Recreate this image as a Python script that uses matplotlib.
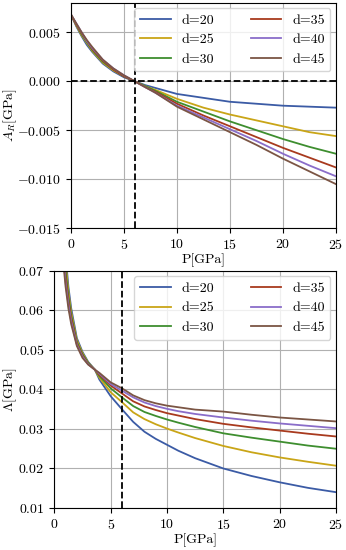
import matplotlib
matplotlib.use("Agg")
import matplotlib.pyplot as plt
import numpy as np

plt.rcParams['font.family'] = 'serif'
plt.rcParams['font.serif'] = ['cmr10']
plt.rcParams['mathtext.fontset'] = 'cm'
plt.rcParams['axes.formatter.use_mathtext'] = True
plt.rcParams['font.size'] = 10

# Etiquetas y colores de las series
etiquetas = ['d=20', 'd=25', 'd=30', 'd=35', 'd=40', 'd=45']
colores = ['#3b5ba5', '#c9a517', '#3e8e2f', '#a83a1e', '#8a6dc9', '#7b5544']

# Panel superior: A_R frente a P
P_a = [0, 0.5, 1, 1.5, 2, 3, 4, 5, 6, 7, 8, 10, 12.5, 15, 17.5, 20, 22.5, 25]
A_d20 = [0.0068, 0.0056, 0.0046, 0.0037, 0.0030, 0.0018, 0.0010, 0.0004, 0, -0.0004, -0.0007,
         -0.0013, -0.0017, -0.0021, -0.0023, -0.0025, -0.0026, -0.0027]
A_d25 = [0.0068, 0.0057, 0.0047, 0.0039, 0.0031, 0.0019, 0.0011, 0.0005, 0, -0.0005, -0.0009,
         -0.0018, -0.0027, -0.0034, -0.0040, -0.0046, -0.0052, -0.0056]
A_d30 = [0.0068, 0.0058, 0.0048, 0.0040, 0.0032, 0.0020, 0.0012, 0.0005, 0, -0.0005, -0.0010,
         -0.0021, -0.0031, -0.0041, -0.0050, -0.0059, -0.0067, -0.0074]
A_d35 = [0.0068, 0.0058, 0.0049, 0.0041, 0.0033, 0.0021, 0.0012, 0.0005, 0, -0.0006, -0.0011,
         -0.0023, -0.0035, -0.0046, -0.0057, -0.0068, -0.0078, -0.0088]
A_d40 = [0.0068, 0.0059, 0.0050, 0.0041, 0.0034, 0.0022, 0.0013, 0.0006, 0, -0.0006, -0.0012,
         -0.0025, -0.0037, -0.0049, -0.0061, -0.0074, -0.0086, -0.0097]
A_d45 = [0.0068, 0.0059, 0.0050, 0.0042, 0.0035, 0.0022, 0.0013, 0.0006, 0, -0.0006, -0.0012,
         -0.0026, -0.0039, -0.0052, -0.0065, -0.0079, -0.0092, -0.0105]

# Panel inferior: Lambda frente a P
P_l = [0.6, 0.8, 1.0, 1.25, 1.5, 2, 2.5, 3, 3.6, 4, 5, 6, 7, 8, 9, 10, 11, 12.5, 15, 17.5, 20, 22.5, 25]
L_d20 = [0.095, 0.083, 0.074, 0.066, 0.0605, 0.053, 0.0495, 0.047, 0.045, 0.0425, 0.0383, 0.0350,
         0.0318, 0.0293, 0.0275, 0.0260, 0.0245, 0.0226, 0.0200, 0.0181, 0.0165, 0.0151, 0.0140]
L_d25 = [0.092, 0.080, 0.072, 0.0648, 0.0595, 0.0525, 0.0492, 0.0468, 0.045, 0.0430, 0.0393, 0.0368,
         0.0342, 0.0325, 0.0312, 0.0301, 0.0291, 0.0277, 0.0257, 0.0241, 0.0228, 0.0217, 0.0207]
L_d30 = [0.089, 0.078, 0.070, 0.0636, 0.0587, 0.052, 0.0489, 0.0467, 0.045, 0.0434, 0.0403, 0.0380,
         0.0358, 0.0343, 0.0333, 0.0324, 0.0316, 0.0305, 0.0289, 0.0278, 0.0268, 0.0258, 0.0250]
L_d35 = [0.086, 0.076, 0.0685, 0.0625, 0.058, 0.0516, 0.0486, 0.0465, 0.045, 0.0437, 0.0410, 0.0390,
         0.0370, 0.0357, 0.0348, 0.0340, 0.0334, 0.0325, 0.0313, 0.0304, 0.0296, 0.0288, 0.0281]
L_d40 = [0.083, 0.074, 0.067, 0.0615, 0.0572, 0.0513, 0.0483, 0.0464, 0.045, 0.0440, 0.0414, 0.0397,
         0.0380, 0.0367, 0.0358, 0.0351, 0.0345, 0.0338, 0.0329, 0.0321, 0.0314, 0.0308, 0.0302]
L_d45 = [0.080, 0.072, 0.066, 0.0605, 0.0565, 0.051, 0.048, 0.0463, 0.045, 0.0442, 0.0418, 0.0403,
         0.0385, 0.0373, 0.0365, 0.0359, 0.0355, 0.0349, 0.0344, 0.0336, 0.0329, 0.0324, 0.0319]

series_a = [A_d20, A_d25, A_d30, A_d35, A_d40, A_d45]
series_l = [L_d20, L_d25, L_d30, L_d35, L_d40, L_d45]

fig = plt.figure(figsize=(3.46, 5.5), dpi=100)
ax1 = fig.add_axes([0.205, 0.585, 0.766, 0.41])
ax2 = fig.add_axes([0.157, 0.0764, 0.814, 0.431])

for ax in (ax1, ax2):
    ax.grid(True, color='#b0b0b0', linewidth=0.8)
    ax.set_axisbelow(True)

# Panel superior
for vals, lab, col in zip(series_a, etiquetas, colores):
    ax1.plot(P_a, vals, color=col, linewidth=1.3, label=lab)
ax1.axvline(6, color='black', linestyle='--', linewidth=1.3)
ax1.axhline(0, color='black', linestyle='--', linewidth=1.3)
ax1.set_xlim(0, 25)
ax1.set_ylim(-0.015, 0.008)
ax1.set_yticks([-0.015, -0.010, -0.005, 0.0, 0.005])
ax1.set_yticklabels(['$-0.015$', '$-0.010$', '$-0.005$', '$0.000$', '$0.005$'])
ax1.set_xticks([0, 5, 10, 15, 20, 25])
ax1.set_xlabel('P[GPa]', labelpad=1)
ax1.set_ylabel('$A_R$[GPa]', va='center')
ax1.yaxis.set_label_coords(-0.228, 0.5)
ax1.legend(ncol=2, loc='upper right', columnspacing=2.6, handlelength=2.2,
           fontsize=10, borderaxespad=0.4)

# Panel inferior
for vals, lab, col in zip(series_l, etiquetas, colores):
    ax2.plot(P_l, vals, color=col, linewidth=1.3, label=lab)
ax2.axvline(6, color='black', linestyle='--', linewidth=1.3)
ax2.set_xlim(0, 25)
ax2.set_ylim(0.01, 0.07)
ax2.set_yticks([0.01, 0.02, 0.03, 0.04, 0.05, 0.06, 0.07])
ax2.set_yticklabels(['$0.01$', '$0.02$', '$0.03$', '$0.04$', '$0.05$', '$0.06$', '$0.07$'])
ax2.set_xticks([0, 5, 10, 15, 20, 25])
ax2.set_xlabel('P[GPa]', labelpad=1)
ax2.set_ylabel(r'$\Lambda$[GPa]', va='center')
ax2.yaxis.set_label_coords(-0.155, 0.5)
ax2.legend(ncol=2, loc='upper right', columnspacing=2.6, handlelength=2.2,
           fontsize=10, borderaxespad=0.4)

fig.savefig('out.png', dpi=100)
